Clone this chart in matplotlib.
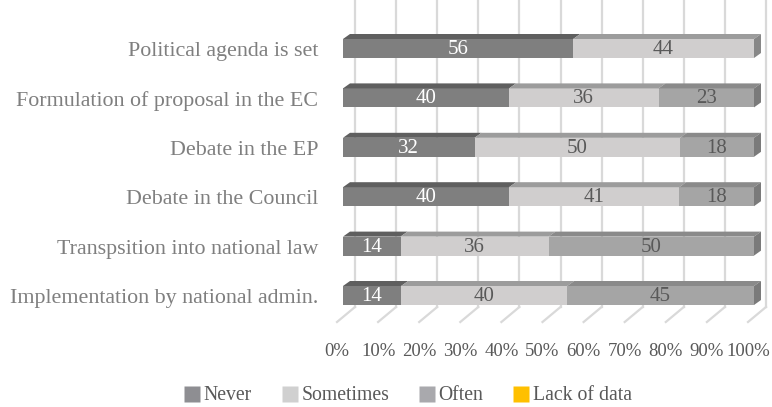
import numpy as np
import matplotlib.pyplot as plt
from matplotlib.patches import Polygon
from matplotlib.lines import Line2D

categories = ["Political agenda is set",
              "Formulation of proposal in the EC",
              "Debate in the EP",
              "Debate in the Council",
              "Transpsition into national law",
              "Implementation by national admin."]
never = [56, 40, 32, 40, 14, 14]
sometimes = [44, 36, 50, 41, 36, 40]
often = [0, 23, 18, 18, 50, 45]
lack_of_data = [0, 0, 0, 0, 0, 0]
series_names = ["Never", "Sometimes", "Often", "Lack of data"]
ticks = np.arange(0, 101, 10)

plt.rcParams['font.family'] = ['Liberation Serif', 'DejaVu Serif']

# colours: front, top, side
front = ["#7f7f7f", "#d0cece", "#a5a5a5", "#ffc000"]
top = ["#5f5f5f", "#9c9c9c", "#8a8a8a", "#c09000"]
side = ["#5a5a5a", "#878787", "#7a7a7a", "#b08000"]
legend_col = ["#8e8e92", "#d0d0d0", "#a9a9ad", "#ffc000"]
txt_col = ["white", "#595959", "#595959", "#595959"]

fig = plt.figure(figsize=(7.72, 4.07), dpi=100)
ax = fig.add_axes([0, 0, 1, 1])
ax.axis("off")

# pixel-like layout: 1 % = 4.11 px, y in pixels from the top
scale = 4.11
x0 = 343
ax.set_xlim(-x0 / scale, (772 - x0) / scale)
ax.set_ylim(407, 0)

back_dx = 12 / scale
floor_dx = -6 / scale
wall_bottom, floor_front = 307, 322

# back wall grid and floor lines
for t in ticks:
    ax.plot([t + back_dx, t + back_dx], [0, wall_bottom], color="#d9d9d9", lw=1.6, zorder=0)
    ax.plot([t + back_dx, t + floor_dx], [wall_bottom, floor_front], color="#d9d9d9", lw=1.6, zorder=0)
    ax.text(t + floor_dx, 351, f"{t}%", ha="center", va="center", fontsize=13.5, color="#595959")

data = np.array([never, sometimes, often, lack_of_data], dtype=float)
data = data / data.sum(axis=0) * 100

rows = 48.5 + 49.4 * np.arange(len(categories))
bh = 19
ddx, ddy = 7 / scale, 5

left = np.zeros(len(categories))
for k in range(len(series_names)):
    vals = data[k]
    ax.barh(rows, vals, left=left, height=bh, color=front[k], zorder=3)
    for i, (l, w) in enumerate(zip(left, vals)):
        if w <= 0:
            continue
        yt = rows[i] - bh / 2
        ax.add_patch(Polygon([(l, yt), (l + ddx, yt - ddy), (l + w + ddx, yt - ddy), (l + w, yt)],
                             closed=True, facecolor=top[k], edgecolor="none", zorder=3))
        ax.text(l + w / 2, rows[i] + 1, f"{round([never, sometimes, often, lack_of_data][k][i])}",
                ha="center", va="center", fontsize=15, color=txt_col[k], zorder=5)
    left = left + vals

# right end faces
for i in range(len(categories)):
    last = max(k for k in range(len(series_names)) if data[k][i] > 0)
    r = left[i]
    yt = rows[i] - bh / 2
    yb = rows[i] + bh / 2
    ax.add_patch(Polygon([(r, yt), (r + ddx, yt - ddy), (r + ddx, yb - ddy), (r, yb)],
                         closed=True, facecolor=side[last], edgecolor="none", zorder=3))

for i, c in enumerate(categories):
    ax.text(-25 / scale, rows[i] + 3, c, ha="right", va="center", fontsize=15.8, color="#7f7f7f")

handles = [Line2D([], [], marker="s", ls="none", markersize=11, markerfacecolor=c, markeredgecolor="none")
           for c in legend_col]
fig.legend(handles, series_names, loc="center", bbox_to_anchor=(408 / 772, 1 - 396 / 407),
           ncol=4, frameon=False, fontsize=14.2, labelcolor="#595959",
           handletextpad=0.2, columnspacing=1.5, handlelength=0.8, borderpad=0.1)

fig.savefig("out.png", dpi=100)
